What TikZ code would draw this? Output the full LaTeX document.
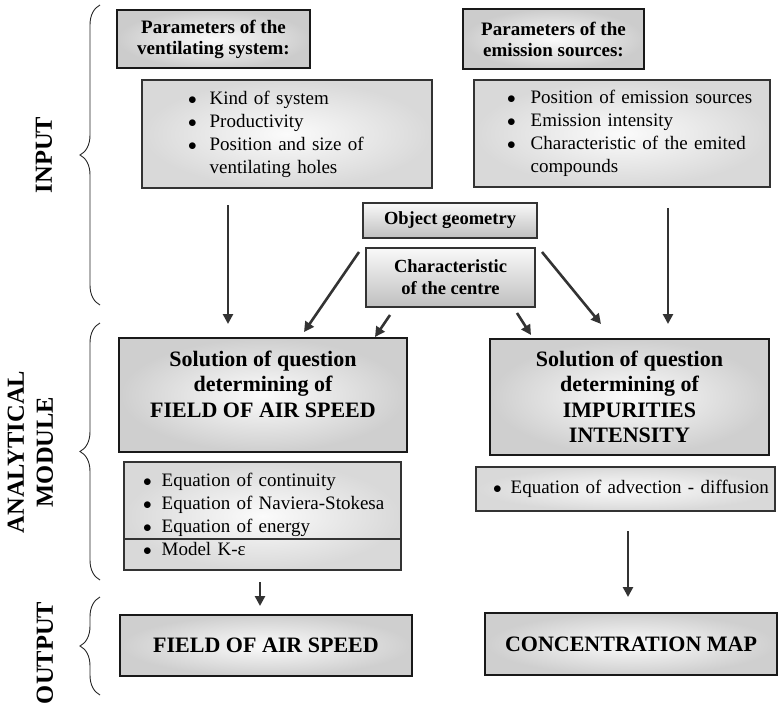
\documentclass[tikz,border=0pt]{standalone}
\usepackage{fontspec}
\setmainfont{Liberation Serif}
\usetikzlibrary{arrows.meta,decorations.pathreplacing,shadings}
\tikzset{
   titlebox/.style={draw=black!90, line width=2.4pt, inner sep=0pt, align=center, shade,
                    inner color=gray!3, outer color=gray!40, font=\bfseries\fontsize{19}{21}\selectfont},
   listbox/.style={draw=black!80, line width=1.1pt, inner ysep=0pt, align=left, shade,
                   inner color=gray!3, outer color=gray!30, font=\fontsize{19}{23}\selectfont},
   geobox/.style={draw=black!80, line width=1.4pt, inner sep=0pt, align=center,
                  top color=gray!5, bottom color=gray!50, font=\bfseries\fontsize{18.5}{22}\selectfont},
   bigbox/.style={draw=black!90, line width=2.4pt, inner sep=0pt, align=center, shade,
                  inner color=gray!3, outer color=gray!38, font=\bfseries\fontsize{22}{25.5}\selectfont},
   flow/.style={draw=black!80, line width=2.6pt, -{Triangle[width=10pt,length=10pt]}},
   curly/.style={decorate, decoration={brace, amplitude=20pt}, draw=black!85, line width=0.9pt},
   side/.style={rotate=90, inner sep=0pt, align=center, font=\bfseries\fontsize{24.5}{29}\selectfont}
}
\newcommand{\bul}{$\bullet$}

\begin{document}
\begin{tikzpicture}[x=1pt, y=-1pt]
\useasboundingbox (0,0) rectangle (779,709);
% input
\path (213.5,39) node[titlebox, minimum width=193pt, minimum height=58pt] (vent) {Parameters of the\\ventilating system:};
\path (553.5,39) node[titlebox, minimum width=181pt, minimum height=60pt] (emis) {Parameters of the\\emission sources:};
\path (287,134) node[listbox, inner xsep=46pt, text width=198pt, minimum height=108pt] (ventlist) {\begin{tabular}{@{}l@{\hspace{13pt}}l@{}}
   \bul & Kind of system\\ \bul & Productivity\\ \bul & Position and size of\\ & ventilating holes\end{tabular}};
\path (622,133.5) node[listbox, inner xsep=33pt, text width=230pt, minimum height=107pt] (emislist) {\begin{tabular}{@{}l@{\hspace{15pt}}l@{}}
   \bul & Position of emission sources\\ \bul & Emission intensity\\ \bul & Characteristic of the emited\\ & compounds\end{tabular}};
\path (450,220.5) node[geobox, minimum width=174pt, minimum height=35pt] (geo) {Object geometry};
\path (450.5,277.5) node[geobox, minimum width=169pt, minimum height=59pt] (centre) {Characteristic\\of the centre};

% analytical module
\path (263,395) node[bigbox, minimum width=288pt, minimum height=114pt] (air) {};
\path (air.center) node[bigbox, draw=none, shade=none, yshift=11pt] (airtxt) {Solution of question\\determining of\\FIELD OF AIR SPEED};
\path (629.5,397) node[bigbox, minimum width=279pt, minimum height=116pt] (imp) {Solution of question\\determining of\\IMPURITIES\\INTENSITY};
\path (262.5,516) node[listbox, inner xsep=19pt, text width=239pt, minimum height=108pt] (eqair) {\begin{tabular}{@{}l@{\hspace{10pt}}l@{}}
   \bul & Equation of continuity\\ \bul & Equation of Naviera-Stokesa\\ \bul & Equation of energy\\ \bul & Model K-ε\end{tabular}};
\draw[black!80, line width=1.1pt] (eqair.west |- 0,539) -- (eqair.east |- 0,539);
\path (625.5,489) node[listbox, inner xsep=17pt, text width=265pt, minimum height=44pt] (eqimp) {\begin{tabular}{@{}l@{\hspace{9pt}}l@{}}
   \bul & Equation of advection - diffusion\end{tabular}};

% output
\path (266,645.5) node[bigbox, minimum width=292pt, minimum height=61pt] (airout) {FIELD OF AIR SPEED};
\path (631,644) node[bigbox, minimum width=292pt, minimum height=62pt] (map) {CONCENTRATION MAP};

% arrows
\path (228,205) coordinate (ventA) (228,324) coordinate (airA)
      (359,252) coordinate (geoL)  (304,332) coordinate (airB)
      (390,315) coordinate (cenL)  (375,337) coordinate (airC)
      (517,313) coordinate (cenR)  (531,335) coordinate (impA)
      (542,252) coordinate (geoR)  (601,324) coordinate (impB)
      (668,208) coordinate (emisA) (668,324) coordinate (impC)
      (260,582) coordinate (eqairA) (260,606) coordinate (airoutA)
      (628,531) coordinate (eqimpA) (628,597) coordinate (mapA);
\foreach \a/\b in {ventA/airA, geoL/airB, cenL/airC, cenR/impA, geoR/impB, emisA/impC, eqairA/airoutA, eqimpA/mapA}
   \draw[flow] (\a) -- (\b);

% braces
\draw[curly] (100,305) -- (100,5);
\draw[curly] (100,580) -- (100,323);
\draw[curly] (100,695) -- (100,597);
\path (44,155) node[side] (inlbl) {INPUT};
\path (30.5,452) node[side] (anlbl) {ANALYTICAL\\MODULE};
\path (45,653) node[side] (outlbl) {OUTPUT};
\end{tikzpicture}
\end{document}
